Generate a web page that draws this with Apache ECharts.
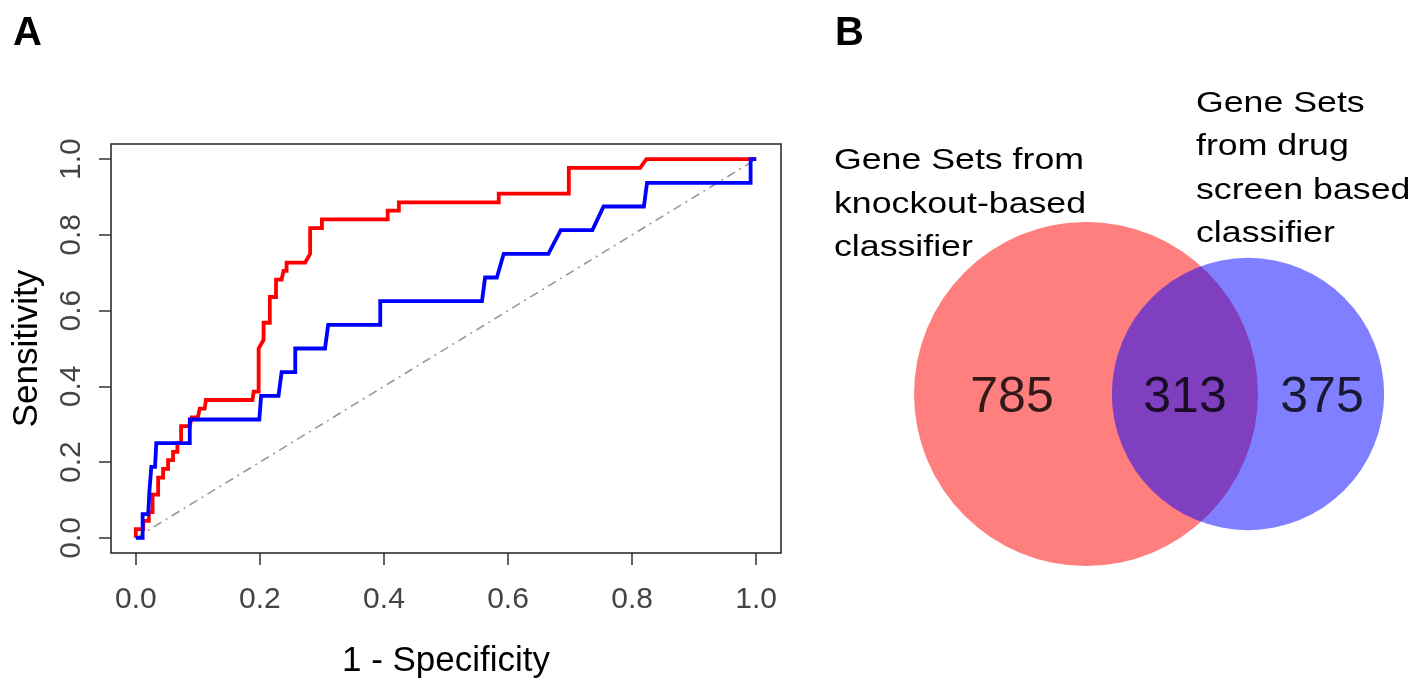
<!DOCTYPE html>
<html>
<head>
<meta charset="utf-8">
<script src="https://cdn.jsdelivr.net/npm/echarts@6/dist/echarts.min.js"></script>
<style>
html,body{margin:0;padding:0;background:#fff;}
#chart{width:1418px;height:688px;}
</style>
</head>
<body>
<div id="chart"></div>
<script>
// ---------- Data ----------
// Panel A: ROC curves (x = 1 - Specificity, y = Sensitivity)
const redX = [0, 0, 0.012, 0.012, 0.021, 0.021, 0.027, 0.027, 0.036, 0.036, 0.044, 0.044, 0.052, 0.052, 0.060, 0.060, 0.067, 0.067, 0.073, 0.073, 0.087, 0.090, 0.100, 0.103, 0.111, 0.113, 0.188, 0.190, 0.198, 0.198, 0.206, 0.206, 0.216, 0.216, 0.226, 0.226, 0.235, 0.238, 0.243, 0.243, 0.273, 0.281, 0.281, 0.300, 0.300, 0.406, 0.406, 0.424, 0.424, 0.585, 0.585, 0.698, 0.698, 0.813, 0.823, 1.0];
const redY = [0, 0.023, 0.023, 0.045, 0.045, 0.068, 0.068, 0.114, 0.114, 0.159, 0.159, 0.182, 0.182, 0.205, 0.205, 0.227, 0.227, 0.250, 0.250, 0.295, 0.295, 0.318, 0.318, 0.341, 0.341, 0.364, 0.364, 0.386, 0.386, 0.500, 0.523, 0.568, 0.568, 0.636, 0.636, 0.682, 0.682, 0.705, 0.705, 0.727, 0.727, 0.750, 0.818, 0.818, 0.841, 0.841, 0.864, 0.864, 0.886, 0.886, 0.909, 0.909, 0.977, 0.977, 1.0, 1.0];
const blueX = [0, 0.011, 0.011, 0.020, 0.022, 0.025, 0.031, 0.033, 0.087, 0.087, 0.199, 0.202, 0.230, 0.235, 0.257, 0.257, 0.305, 0.310, 0.394, 0.394, 0.558, 0.563, 0.582, 0.593, 0.665, 0.685, 0.736, 0.754, 0.819, 0.824, 0.991, 0.991, 1.0];
const blueY = [0, 0, 0.0625, 0.0625, 0.125, 0.1875, 0.1875, 0.25, 0.25, 0.3125, 0.3125, 0.375, 0.375, 0.4375, 0.4375, 0.5, 0.5, 0.5625, 0.5625, 0.625, 0.625, 0.6875, 0.6875, 0.75, 0.75, 0.8125, 0.8125, 0.875, 0.875, 0.9375, 0.9375, 1.0, 1.0];
const diagX = [0, 1];
const diagY = [0, 1];
const tickValues = [0, 0.2, 0.4, 0.6, 0.8, 1.0];

// Panel B: Venn diagram counts
const vennOnlyKnockout = 785;
const vennBoth = 313;
const vennOnlyDrug = 375;
const knockoutLabel = ['Gene Sets from', 'knockout-based', 'classifier'];
const drugLabel = ['Gene Sets', 'from drug', 'screen based', 'classifier'];

// ---------- Build options ----------
const FONT = '"Liberation Sans", Arial, Helvetica, sans-serif';
const zip = (xs, ys) => xs.map((x, i) => [x, ys[i]]);

// Venn layout (pixel coordinates on a hidden grid)
const vennK = 5.19; // radius per sqrt(count)
const totalKnockout = vennOnlyKnockout + vennBoth;
const totalDrug = vennOnlyDrug + vennBoth;
const cyVenn = 394;
const cxKnock = 1086, cxDrug = 1248;

const graphic = [
  {type:'text', x:13, y:34, style:{text:'A', font:'bold 40px ' + FONT, fill:'#000', textAlign:'left', textVerticalAlign:'middle'}},
  {type:'text', x:835, y:34, style:{text:'B', font:'bold 40px ' + FONT, fill:'#000', textAlign:'left', textVerticalAlign:'middle'}}
];
const leftCenters = [161, 204.5, 248];
knockoutLabel.forEach((t, i) => graphic.push({
  type:'text', x:834, y:leftCenters[i], scaleX:1.19,
  style:{text:t, font:'30px ' + FONT, fill:'#000', textAlign:'left', textVerticalAlign:'middle'}
}));
const rightCenters = [103.3, 147, 190.5, 234];
drugLabel.forEach((t, i) => graphic.push({
  type:'text', x:1196, y:rightCenters[i], scaleX:1.19,
  style:{text:t, font:'30px ' + FONT, fill:'#000', textAlign:'left', textVerticalAlign:'middle'}
}));

const option = {
  animation: false,
  backgroundColor: '#fff',
  graphic: graphic,
  grid: [
    {left:111, top:144, width:670, height:409, show:true, borderColor:'#222', borderWidth:1.5, backgroundColor:'transparent'},
    {left:0, top:0, width:1418, height:688, show:false}
  ],
  xAxis: [
    {
      type:'value', gridIndex:0, min:-0.04, max:1.04,
      splitLine:{show:false}, axisLine:{show:false, onZero:false},
      axisTick:{show:true, customValues:tickValues, length:12, lineStyle:{color:'#333', width:1.5}},
      axisLabel:{show:true, customValues:tickValues, formatter:v => v.toFixed(1), fontSize:30, color:'#444', fontFamily:FONT, margin:32},
      name:'1 - Specificity', nameLocation:'middle', nameGap:91,
      nameTextStyle:{fontSize:35, color:'#000', fontFamily:FONT}
    },
    {type:'value', gridIndex:1, min:0, max:1418, show:false}
  ],
  yAxis: [
    {
      type:'value', gridIndex:0, min:-0.04, max:1.04,
      splitLine:{show:false}, axisLine:{show:false, onZero:false},
      axisTick:{show:true, customValues:tickValues, length:12, lineStyle:{color:'#333', width:1.5}},
      axisLabel:{show:true, customValues:tickValues, formatter:v => v.toFixed(1), fontSize:30, color:'#444', fontFamily:FONT, margin:24, rotate:90},
      name:'Sensitivity', nameLocation:'middle', nameGap:66, nameRotate:90,
      nameTextStyle:{fontSize:35, color:'#000', fontFamily:FONT}
    },
    {type:'value', gridIndex:1, min:0, max:688, inverse:true, show:false}
  ],
  series: [
    {
      type:'line', xAxisIndex:0, yAxisIndex:0, data:zip(diagX, diagY),
      showSymbol:false, silent:true,
      lineStyle:{color:'#999', width:1.6, type:[9,5,2,5]}
    },
    {
      type:'line', xAxisIndex:0, yAxisIndex:0, data:zip(redX, redY),
      showSymbol:false, silent:true,
      lineStyle:{color:'#ff0000', width:3.8, join:'miter'}
    },
    {
      type:'line', xAxisIndex:0, yAxisIndex:0, data:zip(blueX, blueY),
      showSymbol:false, silent:true,
      lineStyle:{color:'#0000ff', width:3.8, join:'miter'}
    },
    {
      type:'scatter', xAxisIndex:1, yAxisIndex:1, silent:true,
      data:[[cxKnock, cyVenn, totalKnockout]],
      symbolSize: v => 2 * vennK * Math.sqrt(v[2]),
      itemStyle:{color:'rgba(255,0,0,0.5)', opacity:1}
    },
    {
      type:'scatter', xAxisIndex:1, yAxisIndex:1, silent:true,
      data:[[cxDrug, cyVenn, totalDrug]],
      symbolSize: v => 2 * vennK * Math.sqrt(v[2]),
      itemStyle:{color:'rgba(0,0,255,0.5)', opacity:1}
    },
    {
      type:'scatter', xAxisIndex:1, yAxisIndex:1, silent:true, symbolSize:0,
      data:[[1012, 398, vennOnlyKnockout], [1185, 398, vennBoth], [1322, 398, vennOnlyDrug]],
      label:{show:true, position:'inside', formatter:p => String(p.value[2]), fontSize:50, color:'#000', fontFamily:FONT}
    }
  ]
};

const chart = echarts.init(document.getElementById('chart'), null, {renderer:'canvas'});
chart.setOption(option);
</script>
</body>
</html>
